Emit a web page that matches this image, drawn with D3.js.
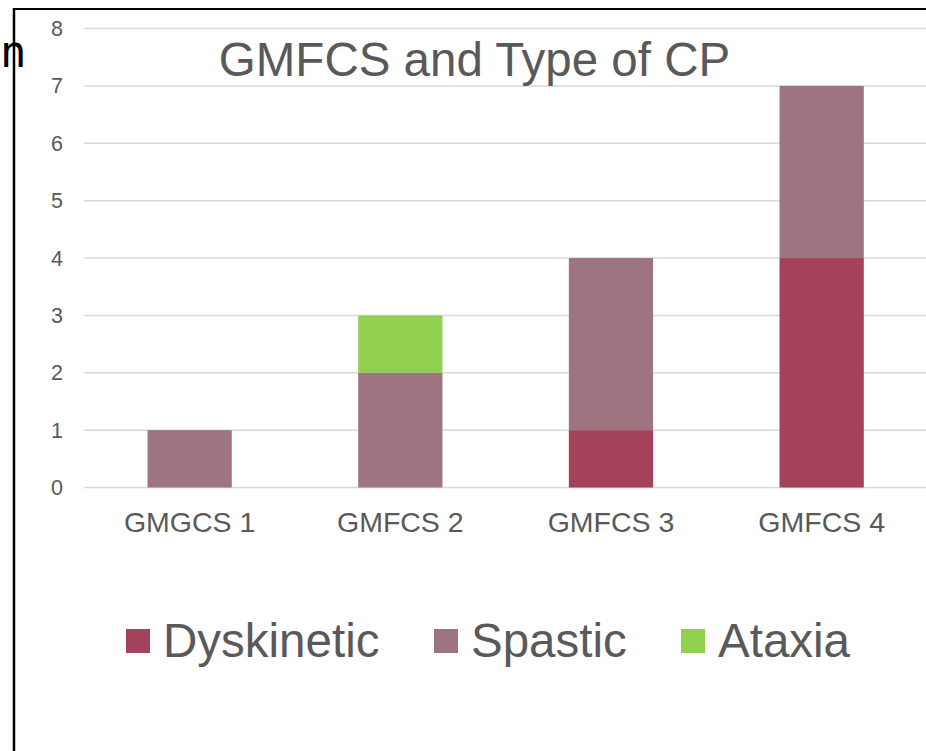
<!DOCTYPE html>
<html>
<head>
<meta charset="utf-8">
<script src="https://cdn.jsdelivr.net/npm/d3@7"></script>
<style>
  html, body { margin: 0; padding: 0; background: #ffffff; }
  svg { display: block; }
  text { font-family: "Liberation Sans", Arial, sans-serif; fill: #595959; }
</style>
</head>
<body>
<script>
const categories = ["GMGCS 1", "GMFCS 2", "GMFCS 3", "GMFCS 4"];
const seriesNames = ["Dyskinetic", "Spastic", "Ataxia"];
const dyskinetic = [0, 0, 1, 4];
const spastic = [1, 2, 3, 3];
const ataxia = [0, 1, 0, 0];
const yTicks = [0, 1, 2, 3, 4, 5, 6, 7, 8];
const titleText = "GMFCS and Type of CP";
const colors = ["#A5425B", "#9E7480", "#92D050"];

const W = 926, H = 751;
const svg = d3.select("body").append("svg").attr("width", W).attr("height", H);

const rows = categories.map((c, i) => ({ cat: c, Dyskinetic: dyskinetic[i], Spastic: spastic[i], Ataxia: ataxia[i] }));
const stack = d3.stack().keys(seriesNames)(rows);

const x = d3.scaleBand().domain(categories).range([84.3, 927]).paddingInner(0.6).paddingOuter(0.3);
const y = d3.scaleLinear().domain([0, 8]).range([487.5, 28.6]);

// gridlines
svg.append("g").selectAll("line").data(yTicks).join("line")
  .attr("x1", 84).attr("x2", W)
  .attr("y1", d => y(d)).attr("y2", d => y(d))
  .attr("stroke", "#D9D9D9").attr("stroke-width", 1.5);

// y tick labels
svg.append("g").selectAll("text").data(yTicks).join("text")
  .attr("x", 63).attr("y", d => y(d)).attr("dy", "0.35em")
  .attr("text-anchor", "end").attr("font-size", 21.5).text(d => d);

// bars
svg.append("g").selectAll("g").data(stack).join("g")
  .attr("fill", (d, i) => colors[i])
  .selectAll("rect").data(d => d.filter(s => s[1] - s[0] > 0)).join("rect")
  .attr("x", d => x(d.data.cat)).attr("width", x.bandwidth())
  .attr("y", d => y(d[1])).attr("height", d => y(d[0]) - y(d[1]));

// x labels
svg.append("g").selectAll("text").data(categories).join("text")
  .attr("x", d => x(d) + x.bandwidth() / 2).attr("y", 532)
  .attr("text-anchor", "middle").attr("font-size", 28.5).text(d => d);

// title
svg.append("text").attr("x", 474.5).attr("y", 76).attr("text-anchor", "middle")
  .attr("font-size", 47.5).text(titleText);

// legend
const legX = [126, 434, 681];
const leg = svg.append("g").selectAll("g").data(seriesNames).join("g")
  .attr("transform", (d, i) => `translate(${legX[i]},629)`);
leg.append("rect").attr("width", 24).attr("height", 24).attr("fill", (d, i) => colors[i]);
leg.append("text").attr("x", 37).attr("y", 28).attr("font-size", 47.5).text(d => d);

// frame
svg.append("line").attr("x1", 14).attr("x2", W).attr("y1", 9).attr("y2", 9)
  .attr("stroke", "#000").attr("stroke-width", 2);
svg.append("line").attr("x1", 14).attr("x2", 14).attr("y1", 8).attr("y2", H)
  .attr("stroke", "#000").attr("stroke-width", 2.5);

// stray glyph at left edge
svg.append("text").attr("x", 0).attr("y", 67).attr("font-size", 44)
  .style("font-family", "'DejaVu Sans Mono', monospace").style("fill", "#000").text("n");
</script>
</body>
</html>
